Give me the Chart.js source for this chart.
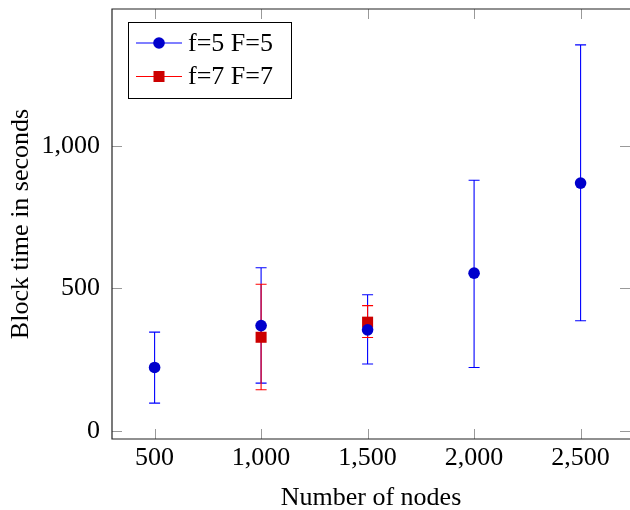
<!DOCTYPE html>
<html>
<head>
<meta charset="utf-8">
<script src="https://cdn.jsdelivr.net/npm/chart.js@4/dist/chart.umd.min.js"></script>
<style>
html, body { margin: 0; padding: 0; background: #fff; }
</style>
</head>
<body>
<canvas id="chart" width="630" height="510"></canvas>
<script>
// data
const nodes5 = [500, 1000, 1500, 2000, 2500];
const time5 = [222, 369, 354, 553, 869];
const low5 = [97, 167, 234, 222, 386];
const high5 = [346, 572, 477, 879, 1354];

const nodes7 = [1000, 1500];
const time7 = [328, 381];
const low7 = [144, 327];
const high7 = [514, 439];

const xTicks = [500, 1000, 1500, 2000, 2500];
const yTicks = [0, 500, 1000];

const serif = "'Liberation Serif', 'DejaVu Serif', serif";
const fmt = v => v.toLocaleString('en-US');

// no extra room for overhanging labels
const noPad = s => { s.paddingTop = 0; s.paddingBottom = 0; s.paddingLeft = 0; s.paddingRight = 0; };

// error bars, frame and inner tick marks
const pgfStyle = {
    id: 'pgfStyle',
    beforeDatasetsDraw(chart) {
        const ctx = chart.ctx;
        const xs = chart.scales.x, ys = chart.scales.y;
        chart.data.datasets.forEach(ds => {
            ctx.save();
            ctx.strokeStyle = ds.barColor;
            ctx.lineWidth = 1.1;
            ds.data.forEach((p, i) => {
                const x = xs.getPixelForValue(p.x);
                const y1 = ys.getPixelForValue(ds.low[i]);
                const y2 = ys.getPixelForValue(ds.high[i]);
                ctx.beginPath();
                ctx.moveTo(x, y1); ctx.lineTo(x, y2);
                ctx.moveTo(x - 5.5, y1); ctx.lineTo(x + 5.5, y1);
                ctx.moveTo(x - 5.5, y2); ctx.lineTo(x + 5.5, y2);
                ctx.stroke();
            });
            ctx.restore();
        });
    },
    afterDraw(chart) {
        const ctx = chart.ctx;
        const a = chart.chartArea;
        const xs = chart.scales.x, ys = chart.scales.y;
        ctx.save();
        // ticks
        ctx.strokeStyle = '#999';
        ctx.lineWidth = 1;
        ctx.beginPath();
        xTicks.forEach(v => {
            const x = Math.round(xs.getPixelForValue(v)) + 0.5;
            ctx.moveTo(x, a.bottom); ctx.lineTo(x, a.bottom - 10);
            ctx.moveTo(x, a.top); ctx.lineTo(x, a.top + 10);
        });
        yTicks.forEach(v => {
            const y = Math.round(ys.getPixelForValue(v)) + 0.5;
            ctx.moveTo(a.left, y); ctx.lineTo(a.left + 10, y);
            ctx.moveTo(a.right, y); ctx.lineTo(a.right - 10, y);
        });
        ctx.stroke();
        // frame (right side falls off the picture)
        ctx.strokeStyle = '#222';
        ctx.lineWidth = 1.2;
        ctx.beginPath();
        ctx.moveTo(a.right, a.top);
        ctx.lineTo(a.left, a.top);
        ctx.lineTo(a.left, a.bottom);
        ctx.lineTo(a.right, a.bottom);
        ctx.stroke();

        // legend
        const bx = a.left + 16, by = a.top + 13, bw = 163, bh = 76;
        ctx.fillStyle = '#fff';
        ctx.fillRect(bx, by, bw, bh);
        ctx.strokeStyle = '#000';
        ctx.lineWidth = 1;
        ctx.strokeRect(bx + 0.5, by + 0.5, bw, bh);
        ctx.font = '26px ' + serif;
        ctx.textBaseline = 'middle';
        chart.data.datasets.forEach((ds, i) => {
            const cy = by + 21 + i * 33.5;
            ctx.strokeStyle = ds.barColor;
            ctx.lineWidth = 1.1;
            ctx.beginPath();
            ctx.moveTo(bx + 8, cy); ctx.lineTo(bx + 54, cy);
            ctx.stroke();
            ctx.fillStyle = ds.pointBackgroundColor;
            if (ds.pointStyle === 'rect') {
                ctx.fillRect(bx + 31 - 5.5, cy - 5.5, 11, 11);
            } else {
                ctx.beginPath();
                ctx.arc(bx + 31, cy, 5.8, 0, Math.PI * 2);
                ctx.fill();
            }
            ctx.fillStyle = '#000';
            ctx.fillText(ds.label, bx + 60, cy + 1);
        });
        ctx.restore();
    }
};

const chart = document.querySelector('#chart').getContext('2d');

new Chart(chart, {
    type: 'scatter',
    data: {
        datasets: [
            {
                label: 'f=5 F=5',
                data: nodes5.map((n, i) => ({ x: n, y: time5[i] })),
                low: low5,
                high: high5,
                barColor: '#0000ff',
                pointStyle: 'circle',
                pointRadius: 5.8,
                pointBackgroundColor: '#0000cc',
                pointBorderColor: '#0000cc',
                pointBorderWidth: 0
            },
            {
                label: 'f=7 F=7',
                data: nodes7.map((n, i) => ({ x: n, y: time7[i] })),
                low: low7,
                high: high7,
                barColor: '#ff0000',
                pointStyle: 'rect',
                pointRadius: 7.8,
                pointBackgroundColor: '#cc0000',
                pointBorderColor: '#cc0000',
                pointBorderWidth: 0
            }
        ]
    },
    options: {
        responsive: false,
        animation: false,
        devicePixelRatio: 1,
        layout: { autoPadding: false, padding: { top: 9, right: 0, bottom: 0, left: 0 } },
        plugins: { legend: { display: false }, tooltip: { enabled: false } },
        scales: {
            x: {
                type: 'linear',
                min: 300,
                max: 2732,
                afterBuildTicks: s => { s.ticks = xTicks.map(v => ({ value: v })); },
                afterFit: s => { s.height = 71; noPad(s); },
                grid: { display: false, drawTicks: false },
                border: { display: false },
                ticks: { callback: v => fmt(v), color: '#000', padding: 4, maxRotation: 0,
                         font: { family: serif, size: 26, lineHeight: 1.2 } },
                title: { display: true, text: 'Number of nodes', color: '#000',
                         padding: { top: 0, bottom: 0 }, font: { family: serif, size: 26, lineHeight: 0.9 } }
            },
            y: {
                min: -29,
                max: 1480,
                afterBuildTicks: s => { s.ticks = yTicks.map(v => ({ value: v })); },
                afterFit: s => { s.width = 112; noPad(s); },
                grid: { display: false, drawTicks: false },
                border: { display: false },
                ticks: { callback: v => fmt(v), color: '#000', padding: 12,
                         font: { family: serif, size: 26 } },
                title: { display: true, text: 'Block time in seconds', color: '#000',
                         padding: { top: 8, bottom: 0 }, font: { family: serif, size: 26, lineHeight: 1 } }
            }
        }
    },
    plugins: [pgfStyle]
});
</script>
</body>
</html>
